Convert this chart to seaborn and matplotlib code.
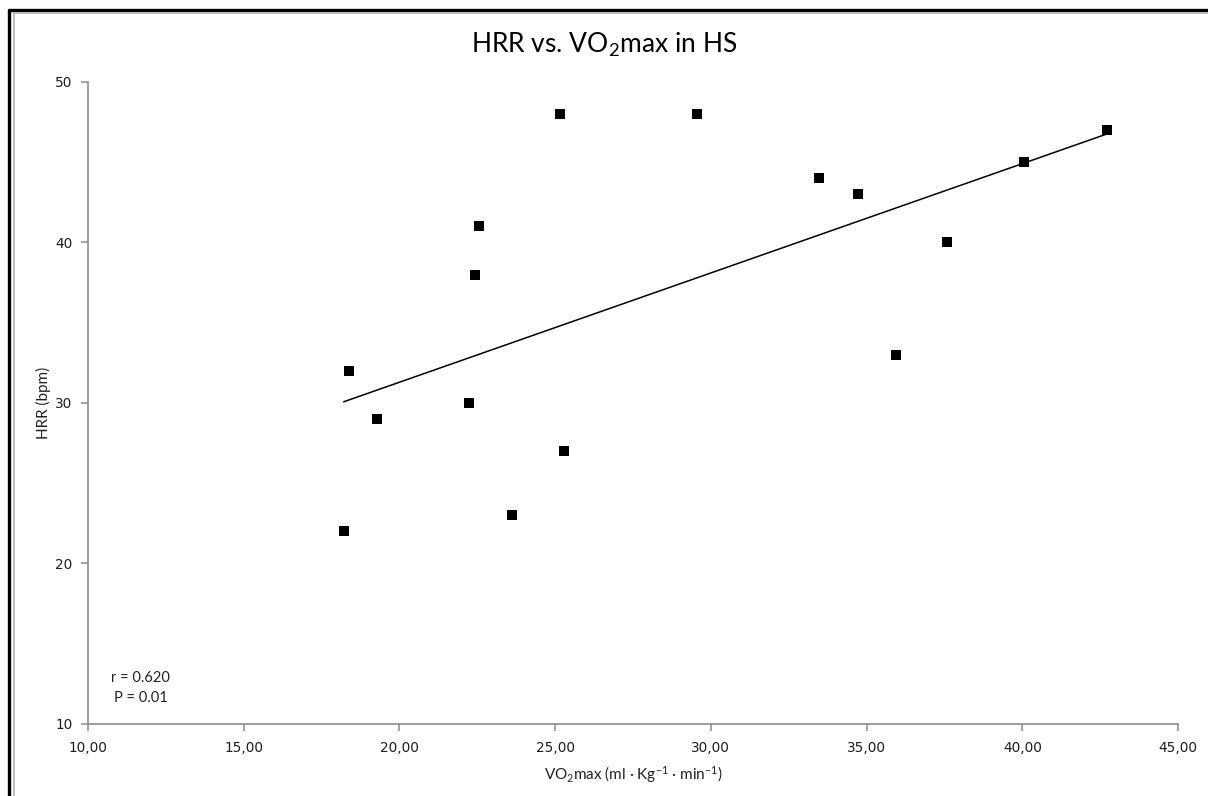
import matplotlib
matplotlib.use("Agg")
import matplotlib.pyplot as plt
import seaborn as sns
import pandas as pd
from matplotlib.ticker import FuncFormatter, MultipleLocator
from matplotlib.lines import Line2D

# data
vo2max = [18.21, 18.37, 19.27, 22.25, 22.44, 22.54, 23.60, 25.17, 25.27,
          29.56, 33.48, 34.73, 35.95, 37.58, 40.05, 42.71]
hrr = [22, 32, 29, 30, 38, 41, 23, 48, 27, 48, 44, 43, 33, 40, 45, 47]
r_text = "r = 0.620"
p_text = "P = 0.01"

df = pd.DataFrame({"vo2max": vo2max, "hrr": hrr})

sns.set_style("white")
plt.rcParams["font.family"] = ["DejaVu Sans"]
plt.rcParams["mathtext.fontset"] = "custom"
plt.rcParams["mathtext.rm"] = "Lato"
plt.rcParams["mathtext.it"] = "Lato"

fig = plt.figure(figsize=(12.08, 7.96), dpi=100)
ax = fig.add_axes([0.0728, 0.0905, 0.9024, 0.8065])

sns.regplot(data=df, x="vo2max", y="hrr", ax=ax, ci=None, marker="s",
            scatter_kws={"color": "black", "s": 46, "linewidths": 0, "alpha": 1, "zorder": 3},
            line_kws={"color": "black", "linewidth": 1.1})

ax.set_xlim(10, 45)
ax.set_ylim(10, 50)
ax.xaxis.set_major_locator(MultipleLocator(5))
ax.yaxis.set_major_locator(MultipleLocator(10))
ax.xaxis.set_major_formatter(FuncFormatter(lambda v, p: f"{v:.2f}".replace(".", ",")))

for s in ["top", "right"]:
    ax.spines[s].set_visible(False)
for s in ["left", "bottom"]:
    ax.spines[s].set_color("#8c8c8c")
    ax.spines[s].set_linewidth(1.2)
ax.tick_params(axis="both", bottom=True, left=True, direction="out", length=5,
               width=1.1, color="#8c8c8c", labelsize=9.8, labelcolor="#1c1c28")
ax.tick_params(axis="x", pad=7)
ax.tick_params(axis="y", pad=6)

ax.set_xlabel(r"VO$_2$max (ml · Kg$^{-1}$ · min$^{-1}$)", family="Lato",
              fontsize=11, color="#222222", labelpad=7)
ax.set_ylabel("HRR (bpm)", family="Lato", fontsize=11, color="#222222", labelpad=3)

fig.text(0.5, 0.943, r"HRR vs. VO$_2$max in HS", family="Lato", fontsize=19,
         ha="center", va="center", color="black")

ax.text(0.0486, 0.0717, r_text, transform=ax.transAxes, family="Lato", fontsize=10.5,
        ha="center", va="center", color="#222222")
ax.text(0.0486, 0.0405, p_text, transform=ax.transAxes, family="Lato", fontsize=10.5,
        ha="center", va="center", color="#222222")

# outer frame (left and top edges visible)
fig.add_artist(Line2D([0.0075, 0.0075], [0, 0.988], color="black", linewidth=2.4,
                      transform=fig.transFigure))
fig.add_artist(Line2D([0.0075, 1.0], [0.988, 0.988], color="black", linewidth=2.4,
                      transform=fig.transFigure))
fig.add_artist(Line2D([0.0115, 0.0115], [0, 0.984], color="#b0b0b0", linewidth=1.2,
                      transform=fig.transFigure))
fig.add_artist(Line2D([0.0115, 1.0], [0.984, 0.984], color="#b0b0b0", linewidth=1.2,
                      transform=fig.transFigure))

fig.savefig("out.png", dpi=100, facecolor="white")
